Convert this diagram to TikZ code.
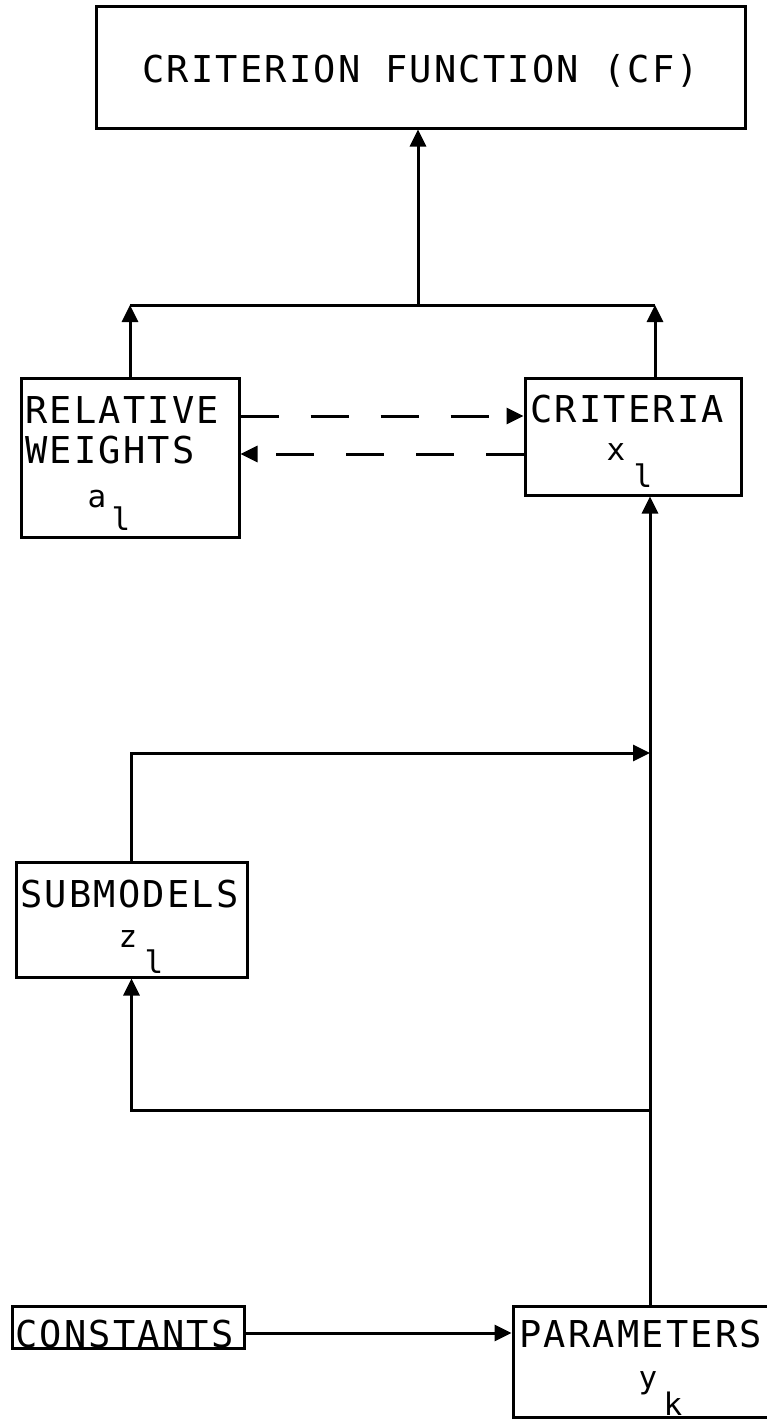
\documentclass[tikz,border=0pt]{standalone}
\usepackage{fontspec}
\usetikzlibrary{arrows.meta}
\newfontfamily\plotfont[LetterSpace=6]{DejaVu Sans Mono}
\begin{document}
\begin{tikzpicture}[x=1pt,y=-1pt, line width=3pt,
  box/.style={draw, rectangle, inner sep=0pt},
  lbl/.style={anchor=base west, inner sep=0pt, font=\plotfont\fontsize{37}{40}\selectfont},
  sml/.style={anchor=base west, inner sep=0pt, font=\plotfont\fontsize{31}{34}\selectfont},
  arr/.style={-{Triangle[length=17pt,width=16pt]}},
  dsh/.style={arr, dash pattern=on 38pt off 32pt}]
\clip (0,0) rectangle (767,1421);
\fill[white] (0,0) rectangle (767,1421);
% boxes
\node[box, minimum width=649pt, minimum height=121pt] (cf) at (420.5,67.5) {};
\node[box, minimum width=218pt, minimum height=159pt] (rw) at (130,457.5) {};
\node[box, minimum width=216pt, minimum height=117pt] (crit) at (633,436.5) {};
\node[box, minimum width=231pt, minimum height=115pt] (subm) at (131.5,919.5) {};
\node[box, minimum width=232pt, minimum height=42pt] (cons) at (128,1327) {};
\node[box, minimum width=277pt, minimum height=111pt] (par) at (651.5,1361.5) {};
% texts
\node[lbl] (tcf) at (141,82) {CRITERION FUNCTION (CF)};
\node[lbl] (trw1) at (24,423) {RELATIVE};
\node[lbl] (trw2) at (24,463) {WEIGHTS};
\node[sml] (ta) at (86,507) {a};
\node[sml] (tal) at (110,530) {l};
\node[lbl] (tcr) at (529,422) {CRITERIA};
\node[sml] (tx) at (605,460) {x};
\node[sml] (txl) at (632,487) {l};
\node[lbl] (tsm) at (19,907) {SUBMODELS};
\node[sml] (tz) at (117,947) {z};
\node[sml] (tzl) at (143,973) {l};
\node[lbl] (tco) at (14,1347) {CONSTANTS};
\node[lbl] (tpa) at (518,1347) {PARAMETERS};
\node[sml] (ty) at (637,1388) {y};
\node[sml] (tk) at (662,1415) {k};
% coordinates
\coordinate (jL) at (130,305);
\coordinate (jC) at (418,305);
\coordinate (jR) at (655,305);
\coordinate (d1) at (0,416);
\coordinate (d2) at (0,454);
\coordinate (mv) at (650,0);
\coordinate (j2) at (650,753);
\coordinate (lp) at (650,1110);
\coordinate (a3) at (0,1333);
% connectors
\draw (jL) -- (jR);
\draw[arr] (jC) -- (jC |- cf.south);
\draw[arr] (rw.north) -- (jL);
\draw[arr] (jR |- crit.north) -- (jR);
\draw[dsh] (rw.east |- d1) -- (crit.west |- d1);
\draw[dsh] (crit.west |- d2) -- (rw.east |- d2);
\draw[arr] (mv |- par.north) -- (mv |- crit.south);
\draw[arr] (subm.north) |- (j2);
\draw[arr] (lp) -| (subm.south);
\draw[arr] (cons.east |- a3) -- (par.west |- a3);
\end{tikzpicture}
\end{document}
